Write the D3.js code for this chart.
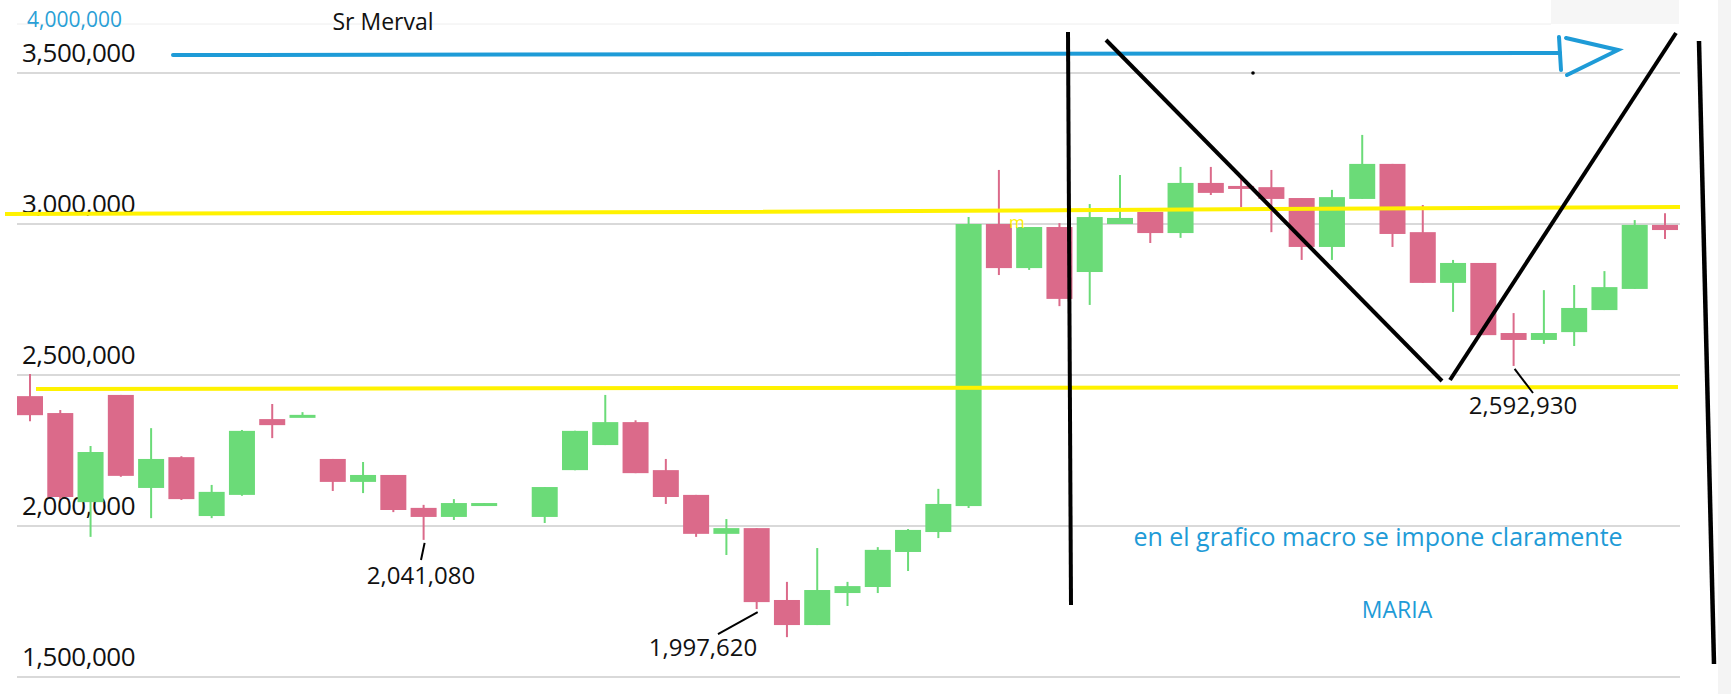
<!DOCTYPE html>
<html>
<head>
<meta charset="utf-8">
<script src="https://cdn.jsdelivr.net/npm/d3@7"></script>
<style>
  body { margin: 0; background: #fff; }
  svg { display: block; font-family: "Open Sans", "Noto Sans", sans-serif; }
</style>
</head>
<body>
<svg width="1731" height="694"></svg>
<script>
// daily candles, index 16 is a missing day
const open  = [2430000,2374000,2079000,2434000,2126000,2228000,2033000,2103000,2354000,2361000,
               2222000,2146000,2169000,2060000,2030000,2070000,null,   2030000,2185000,2268000,
               2344000,2185000,2103000,1974000,1993000,1755000,1672000,1778000,1798000,1914000,
               1980000,2066000,3000000,2854000,2990000,2841000,3000000,3040000,2970000,3136000,
               3126000,3122000,3086000,2924000,3083000,3199000,2973000,2805000,2871000,2639000,
               2616000,2642000,2715000,2785000,2997000]
const close = [2367000,2096000,2245000,2166000,2222000,2089000,2113000,2315000,2334000,2368000,
               2146000,2169000,2053000,2030000,2076000,2076000,null,   2129000,2315000,2344000,
               2175000,2096000,1974000,1993000,1748000,1672000,1788000,1801000,1921000,1987000,
               2073000,3000000,2854000,2990000,2752000,3023000,3020000,2970000,3136000,3103000,
               3119000,3083000,2924000,3089000,3199000,2967000,2805000,2871000,2632000,2616000,
               2639000,2722000,2791000,2997000,2980000]
const high  = [2503000,2384000,2265000,2434000,2324000,2231000,2136000,2318000,2404000,2377000,
               2222000,2212000,2169000,2070000,2089000,2076000,null,   2129000,2315000,2434000,
               2350000,2222000,2103000,2023000,1993000,1815000,1927000,1815000,1930000,1990000,
               2123000,3023000,3179000,2990000,3003000,3066000,3162000,3040000,3189000,3189000,
               3162000,3179000,3086000,3113000,3295000,3199000,3063000,2881000,2871000,2705000,
               2781000,2798000,2844000,3013000,3036000]
const low   = [2347000,2090000,1964000,2163000,2026000,2086000,2026000,2100000,2291000,2361000,
               2116000,2109000,2046000,1954000,2020000,2070000,null,   2010000,2185000,2268000,
               2175000,2073000,1964000,1904000,1725000,1632000,1672000,1735000,1778000,1851000,
               1960000,2060000,2831000,2848000,2728000,2732000,3000000,2937000,2954000,3096000,
               3056000,2973000,2881000,2881000,3083000,2924000,2805000,2709000,2632000,2530000,
               2603000,2596000,2715000,2785000,2950000]
const yTicks = [1500000, 2000000, 2500000, 3000000, 3500000]
const lowLabels = [{i: 13, text: "2,041,080"}, {i: 24, text: "1,997,620"}, {i: 49, text: "2,592,930"}]

const svg = d3.select("svg")
const x = d3.scaleLinear().domain([0, 54]).range([30, 1665])
const y = d3.scaleLinear().domain([1500000, 3500000]).range([677, 73])
const fmt = d3.format(",")

// light panels at the edges of the screenshot
svg.append("rect").attr("x", 1718).attr("y", 0).attr("width", 13).attr("height", 694).attr("fill", "#f4f4f4")
svg.append("rect").attr("x", 1551).attr("y", 0).attr("width", 128).attr("height", 24).attr("fill", "#f6f6f6")
svg.append("line").attr("x1", 17).attr("x2", 1551).attr("y1", 24).attr("y2", 24).attr("stroke", "#eeeeee")

svg.append("g").selectAll("line").data(yTicks).join("line")
    .attr("x1", 17).attr("x2", 1680)
    .attr("y1", d => y(d)).attr("y2", d => y(d))
    .attr("stroke", "#d9d9d9").attr("stroke-width", 2)

svg.append("g").selectAll("text").data(yTicks).join("text")
    .attr("x", 22).attr("y", d => y(d) - 11)
    .attr("font-size", 26).attr("letter-spacing", -0.5).attr("fill", "#111")
    .text(fmt)

svg.append("text").attr("x", 27).attr("y", 27).attr("font-size", 21).attr("fill", "#2a9fd6").text("4,000,000")
svg.append("text").attr("x", 383).attr("y", 30).attr("font-size", 23).attr("text-anchor", "middle").attr("fill", "#111").text("Sr Merval")

const data = open.map((o, i) => ({i, o, c: close[i], h: high[i], l: low[i]})).filter(d => d.o != null)
const color = d => d.c >= d.o ? "#6bdb78" : "#db6a8a"

const g = svg.append("g")
g.selectAll("line").data(data).join("line")
    .attr("x1", d => x(d.i)).attr("x2", d => x(d.i))
    .attr("y1", d => y(d.h)).attr("y2", d => y(d.l))
    .attr("stroke", color).attr("stroke-width", 2)
g.selectAll("rect").data(data).join("rect")
    .attr("x", d => x(d.i) - 13).attr("width", 26)
    .attr("y", d => y(Math.max(d.o, d.c)))
    .attr("height", d => Math.max(3, Math.abs(y(d.o) - y(d.c))))
    .attr("fill", color)

// hand-drawn annotations
const yellow = "#fff200"
svg.append("path").attr("d", "M5,214 L700,212 L1680,207").attr("stroke", yellow).attr("stroke-width", 4).attr("fill", "none")
svg.append("path").attr("d", "M36,389 L700,388 L1678,387").attr("stroke", yellow).attr("stroke-width", 4).attr("fill", "none")
svg.append("text").attr("x", 1009).attr("y", 228).attr("font-size", 17).attr("fill", yellow).text("m")

const blue = "#1e9bd7"
svg.append("path").attr("d", "M173,55 L1560,53").attr("stroke", blue).attr("stroke-width", 4).attr("fill", "none").attr("stroke-linecap", "round")
svg.append("path").attr("d", "M1559,37 L1561,70 M1566,38 L1618,50 L1567,75").attr("stroke", blue).attr("stroke-width", 4).attr("fill", "none").attr("stroke-linecap", "round")

svg.append("path").attr("d", "M1068,32 L1071,605").attr("stroke", "#000").attr("stroke-width", 4)
svg.append("path").attr("d", "M1106,40 L1442,381").attr("stroke", "#000").attr("stroke-width", 4)
svg.append("path").attr("d", "M1450,380 L1676,33").attr("stroke", "#000").attr("stroke-width", 4)
svg.append("path").attr("d", "M1699,41 L1714,664").attr("stroke", "#000").attr("stroke-width", 4.5)
svg.append("circle").attr("cx", 1253).attr("cy", 73).attr("r", 1.8).attr("fill", "#000")

// low value call-outs: label position and end of the leader line
const callout = {13: [421, 584, 421, 560], 24: [703, 656, 718, 634], 49: [1523, 414, 1533, 393]}
lowLabels.forEach(d => {
  const [tx, ty, lx, ly] = callout[d.i]
  svg.append("line").attr("x1", x(d.i) + 1).attr("y1", y(low[d.i]) + 3).attr("x2", lx).attr("y2", ly)
      .attr("stroke", "#000").attr("stroke-width", 2)
  svg.append("text").attr("x", tx).attr("y", ty).attr("text-anchor", "middle").attr("font-size", 24).attr("fill", "#111").text(d.text)
})

svg.append("text").attr("x", 1378).attr("y", 546).attr("text-anchor", "middle").attr("font-size", 25).attr("fill", blue).text("en el grafico macro se impone claramente")
svg.append("text").attr("x", 1397).attr("y", 618).attr("text-anchor", "middle").attr("font-size", 23).attr("fill", blue).text("MARIA")
</script>
</body>
</html>
